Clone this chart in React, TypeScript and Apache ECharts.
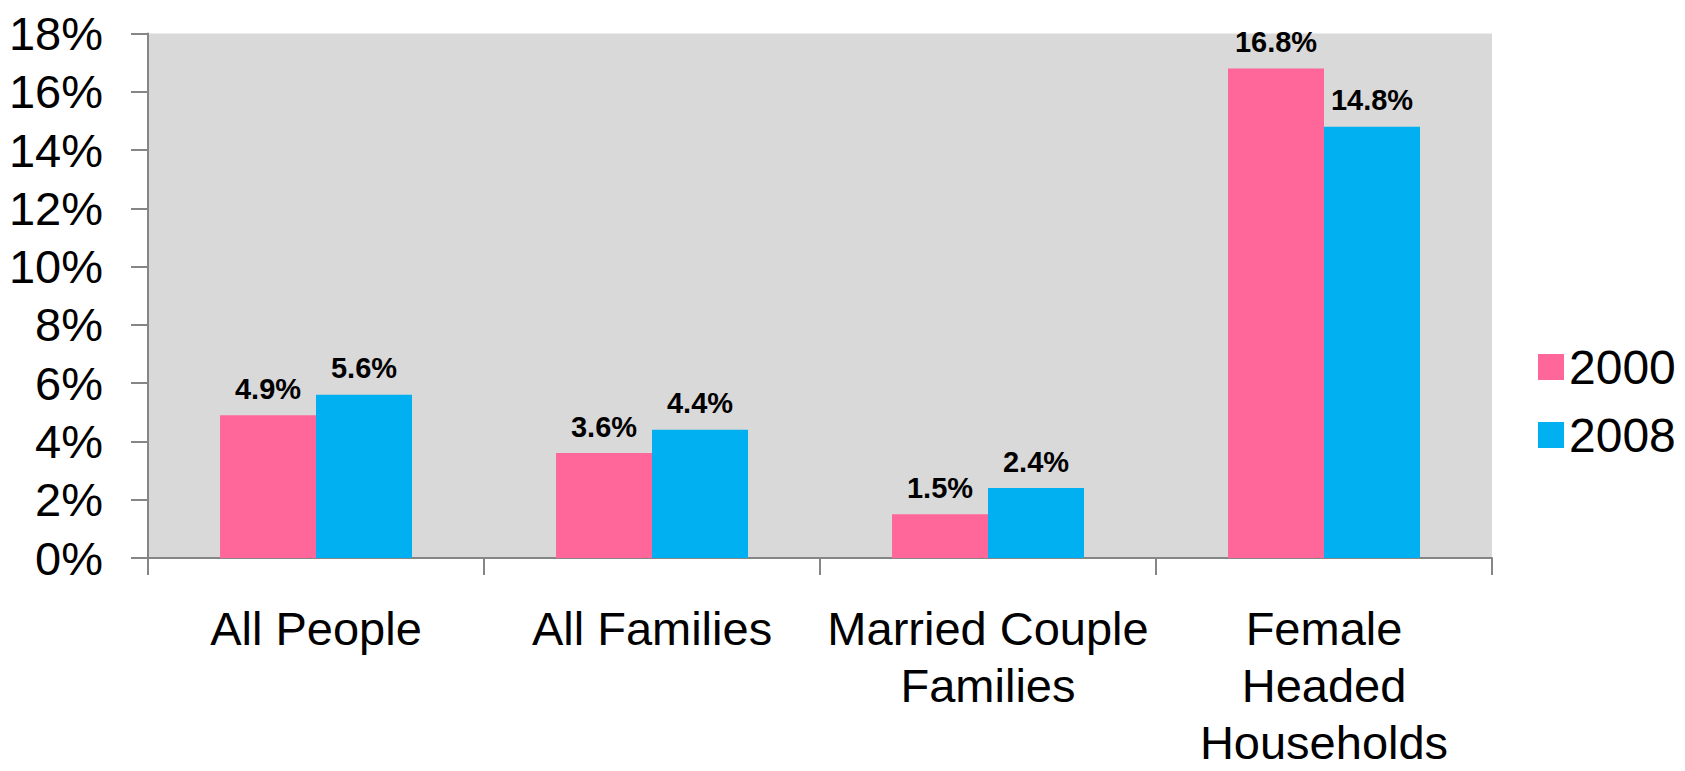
import React, { useEffect, useRef } from "react";
import * as echarts from "echarts";

const categories = ["All People", "All Families", "Married Couple\nFamilies", "Female\nHeaded\nHouseholds"];
const seriesNames = ["2000", "2008"];
const values2000 = [4.9, 3.6, 1.5, 16.8];
const values2008 = [5.6, 4.4, 2.4, 14.8];
const colors = ["#FF6699", "#00B0F0"];

const FONT = "'Liberation Sans', Arial, sans-serif";

export default function App() {
  const ref = useRef<HTMLDivElement>(null);
  useEffect(() => {
    if (!ref.current) return;
    const chart = echarts.init(ref.current, null, { renderer: "svg" });
    const label = {
      show: true,
      position: "top",
      distance: 12,
      fontSize: 29,
      fontWeight: "bold",
      color: "#000",
      fontFamily: FONT,
      formatter: (p: any) => p.value.toFixed(1) + "%",
    };
    chart.setOption({
      animation: false,
      backgroundColor: "#fff",
      textStyle: { fontFamily: FONT },
      grid: {
        left: 148,
        right: 193,
        top: 33.5,
        bottom: 200,
        show: true,
        backgroundColor: "#D9D9D9",
        borderWidth: 0,
      },
      legend: {
        orient: "vertical",
        left: 1538,
        top: 343,
        padding: 0,
        itemWidth: 26,
        itemHeight: 26,
        itemGap: 20,
        icon: "rect",
        textStyle: { fontSize: 48, color: "#000", fontFamily: FONT, padding: [0, 0, 0, 0] },
        data: seriesNames,
      },
      xAxis: {
        type: "category",
        data: categories,
        boundaryGap: true,
        axisLine: { lineStyle: { color: "#868686", width: 2 } },
        axisTick: { show: true, length: 17, alignWithLabel: false, lineStyle: { color: "#868686", width: 2 } },
        axisLabel: {
          interval: 0,
          fontSize: 47,
          lineHeight: 57,
          color: "#000",
          margin: 42,
          fontFamily: FONT,
        },
      },
      yAxis: {
        type: "value",
        min: 0,
        max: 18,
        interval: 2,
        splitLine: { show: false },
        axisLine: { show: true, lineStyle: { color: "#868686", width: 2 } },
        axisTick: { show: true, length: 17, lineStyle: { color: "#868686", width: 2 } },
        axisLabel: {
          formatter: "{value}%",
          fontSize: 47,
          color: "#000",
          margin: 45,
          fontFamily: FONT,
        },
      },
      series: [
        {
          name: seriesNames[0],
          type: "bar",
          data: values2000,
          barWidth: 96,
          barGap: "0%",
          itemStyle: { color: colors[0] },
          label,
        },
        {
          name: seriesNames[1],
          type: "bar",
          data: values2008,
          barWidth: 96,
          barGap: "0%",
          itemStyle: { color: colors[1] },
          label,
        },
      ],
    });
    return () => chart.dispose();
  }, []);
  return (
    <div
      ref={ref}
      style={{ position: "absolute", left: 0, top: 0, width: 1685, height: 771 }}
    />
  );
}
